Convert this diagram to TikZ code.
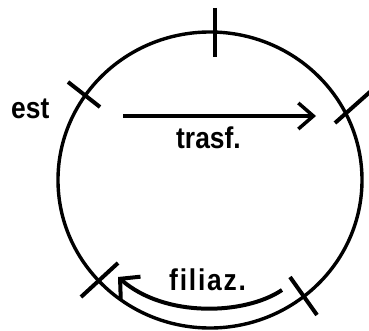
\documentclass[tikz,border=0pt]{standalone}
\usepackage{fontspec}
\setmainfont{Liberation Sans}
\newfontfamily\lblfont[FakeStretch=0.88]{Liberation Sans Bold}
\newfontfamily\lblwide[FakeStretch=0.88,LetterSpace=6]{Liberation Sans Bold}
\usetikzlibrary{arrows.meta}
\begin{document}
\begin{tikzpicture}[x=1pt,y=-1pt,
  lbl/.style={font=\lblfont\fontsize{30}{30}\selectfont, inner sep=0pt, anchor=base west},
  lblw/.style={font=\lblwide\fontsize{30}{30}\selectfont, inner sep=0pt, anchor=base west},
  ring/.style={line width=3.4pt},
  tick/.style={line width=4pt},
  arr/.style={line width=3.5pt, -{Straight Barb[length=15pt,width=26pt,line width=3.5pt]}},
  arrc/.style={line width=4pt, -{Straight Barb[length=14pt,width=30pt,line width=4pt]}}]
\useasboundingbox (0,0) rectangle (369,331);
\fill[white] (0,0) rectangle (369,331);
% circle
\coordinate (c) at (210,180);
\draw[ring] (c) ellipse [x radius=152pt, y radius=148pt];
% ticks
\draw[tick] (215,8) -- (215,57);
\draw[tick] (68,82) -- (100,107);
\draw[tick] (335,123) -- (371,91);
\draw[tick] (81,297) -- (118,263);
\draw[tick] (290,277) -- (317,315);
% labels
\node[lbl] (est) at (11,119) {est};
\node[lbl] (trasf) at (176,149) {trasf.};
\node[lblw] (filiaz) at (169,290) {filiaz.};
% arrows
\coordinate (t1) at (123,116);
\coordinate (t2) at (316,116);
\draw[arr] (t1) -- (t2);
\coordinate (f1) at (282,290);
\coordinate (f2) at (118,277);
\draw[arrc] (f1) .. controls (245,315) and (165,318) .. (f2);
\end{tikzpicture}
\end{document}
